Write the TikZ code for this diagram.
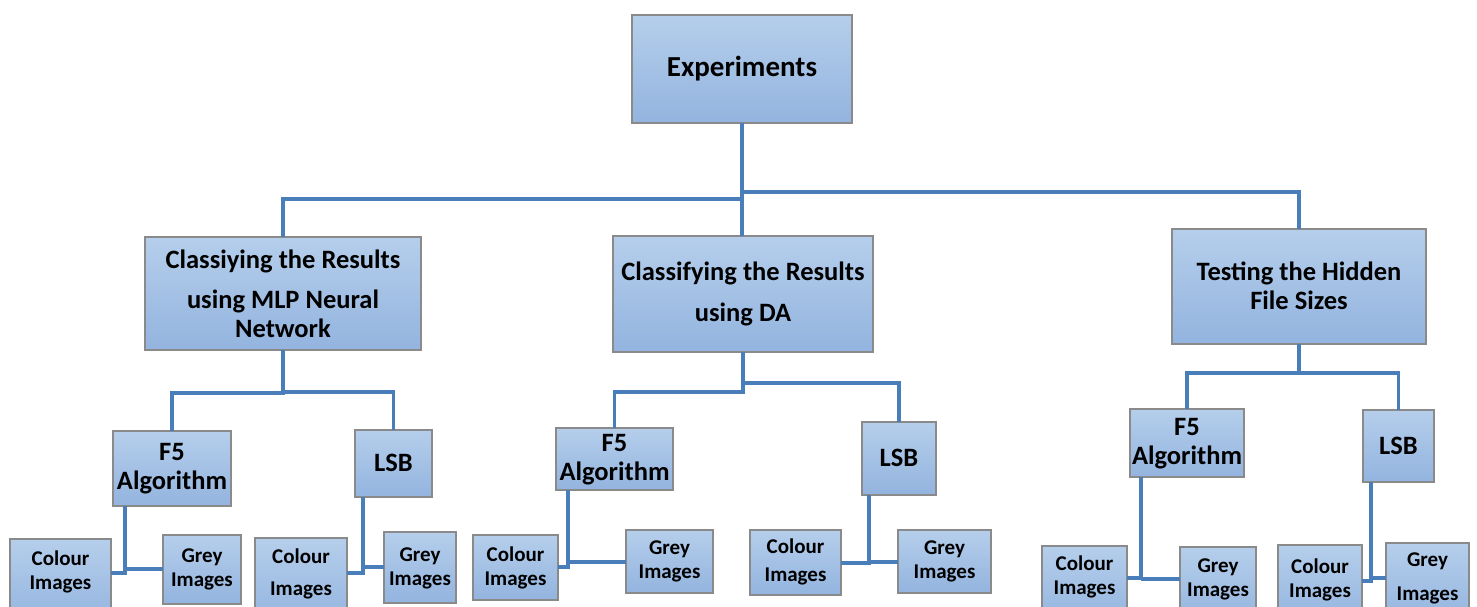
\documentclass[tikz,border=0pt]{standalone}
\usepackage{fontspec}
\setmainfont{Carlito}
\usetikzlibrary{calc}

\definecolor{boxtop}{HTML}{B5CEEB}
\definecolor{boxbot}{HTML}{93B4DF}
\definecolor{boxedge}{HTML}{8A8A8A}
\definecolor{linkblue}{HTML}{4A7EBB}

\tikzset{
  panel/.style={rectangle, draw=boxedge, line width=1.4pt, top color=boxtop,
    bottom color=boxbot, inner sep=0pt, outer sep=0pt},
  link/.style={draw=linkblue, line width=3.2pt},
  lbl/.style={align=center, inner sep=0pt, text=black},
  ttop/.style={lbl, font=\bfseries\fontsize{29}{34}\selectfont},
  tmid/.style={lbl, font=\bfseries\fontsize{26.5}{28.5}\selectfont},
  talg/.style={lbl, font=\bfseries\fontsize{26.5}{29.5}\selectfont},
  tleaf/.style={lbl, font=\bfseries\fontsize{21}{24}\selectfont},
}

% #1 name, #2 left, #3 top, #4 right, #5 bottom, #6 text centre y, #7 text style, #8 text
\newcommand{\mkbox}[8]{%
  \node[panel, minimum width={(#4-#2)*1pt}, minimum height={(#5-#3)*1pt}]
    (#1) at ({(#2+#4)/2},{(#3+#5)/2}) {};
  \node[#7] (#1-t) at ({(#2+#4)/2},#6) {#8};}

\begin{document}
\begin{tikzpicture}[x=1pt,y=-1pt]
\useasboundingbox (0,0) rectangle (1477,606);
\clip (0,0) rectangle (1477,606);

% root
\mkbox{exp}{632}{15}{852}{123}{69}{ttop}{Experiments}

% second level
\mkbox{mlp}{145}{237}{421}{350}{294}{tmid}{Classiying the Results\\[11.5pt]using MLP Neural\\Network}
\mkbox{da}{613}{236}{873}{352}{294}{tmid}{Classifying the Results\\[12.5pt]using DA}
\mkbox{tst}{1172}{229}{1426}{344}{286}{tmid}{Testing the Hidden\\File Sizes}

% algorithms
\mkbox{mf5}{113}{431}{231}{506}{468.5}{talg}{F5\\Algorithm}
\mkbox{mlsb}{355}{430}{432}{497}{463}{talg}{LSB}
\mkbox{df5}{556}{428}{673}{490}{459.5}{talg}{F5\\Algorithm}
\mkbox{dlsb}{862}{422}{936}{495}{458}{talg}{LSB}
\mkbox{tf5}{1130}{409}{1244}{477}{443.5}{talg}{F5\\Algorithm}
\mkbox{tlsb}{1363}{410}{1434}{482}{446}{talg}{LSB}

% image types
\mkbox{mc1}{10}{539}{111}{625}{572}{tleaf}{Colour\\Images}
\mkbox{mg1}{163}{535}{241}{604}{569}{tleaf}{Grey\\Images}
\mkbox{mc2}{255}{538}{347}{625}{574}{tleaf}{Colour\\[8pt]Images}
\mkbox{mg2}{384}{532}{456}{603}{568}{tleaf}{Grey\\Images}
\mkbox{dc1}{473}{535}{558}{600}{567.5}{tleaf}{Colour\\Images}
\mkbox{dg1}{626}{530}{713}{593}{561.5}{tleaf}{Grey\\Images}
\mkbox{dc2}{750}{530}{841}{595}{562}{tleaf}{Colour\\[4pt]Images}
\mkbox{dg2}{898}{530}{991}{593}{561.5}{tleaf}{Grey\\Images}
\mkbox{tc1}{1042}{546}{1127}{625}{577}{tleaf}{Colour\\Images}
\mkbox{tg1}{1180}{547}{1256}{625}{579}{tleaf}{Grey\\Images}
\mkbox{tc2}{1278}{545}{1362}{625}{580}{tleaf}{Colour\\Images}
\mkbox{tg2}{1386}{543}{1469}{625}{578}{tleaf}{Grey\\[10pt]Images}

% root to second level
\draw[link] (exp.south) -- ++(0,76) -| (mlp.north);
\draw[link] (exp.south) -- (exp.south |- da.north);
\draw[link] (exp.south) -- ++(0,69) -| (tst.north);

% second level to algorithms
\draw[link] (mlp.south) -- ++(0,43) -| (mf5.north);
\draw[link] (mlp.south) -- ++(0,42) -| (mlsb.north);
\draw[link] (da.south) -- ++(0,40) -| (df5.north);
\draw[link] (da.south) -- ++(0,31) -| (dlsb.north);
\draw[link] (tst.south) -- ++(0,29) -| (tf5.north);
\draw[link] (tst.south) -- ++(0,29) -| (tlsb.north);

% algorithms to image types
\draw[link] ($(mf5.south west)+(12,0)$) |- ($(mc1.north east)+(0,34)$);
\draw[link] ($(mf5.south west)+(12,63)$) -- ($(mg1.north west)+(0,34)$);
\draw[link] ($(mlsb.south west)+(8,0)$) |- ($(mc2.north east)+(0,35)$);
\draw[link] ($(mlsb.south west)+(8,70)$) -- ($(mg2.north west)+(0,35)$);
\draw[link] ($(df5.south west)+(12,0)$) |- ($(dc1.north east)+(0,32)$);
\draw[link] ($(df5.south west)+(12,72)$) -- ($(dg1.north west)+(0,32)$);
\draw[link] ($(dlsb.south west)+(7,0)$) |- ($(dc2.north east)+(0,33)$);
\draw[link] ($(dlsb.south west)+(7,67)$) -- ($(dg2.north west)+(0,32)$);
\draw[link] ($(tf5.south west)+(11,0)$) |- ($(tc1.north east)+(0,32)$);
\draw[link] ($(tf5.south west)+(11,102)$) -- ($(tg1.north west)+(0,32)$);
\draw[link] ($(tlsb.south west)+(8,0)$) |- ($(tc2.north east)+(0,36)$);
\draw[link] ($(tlsb.south west)+(8,96)$) -- ($(tg2.north west)+(0,35)$);
\end{tikzpicture}
\end{document}
